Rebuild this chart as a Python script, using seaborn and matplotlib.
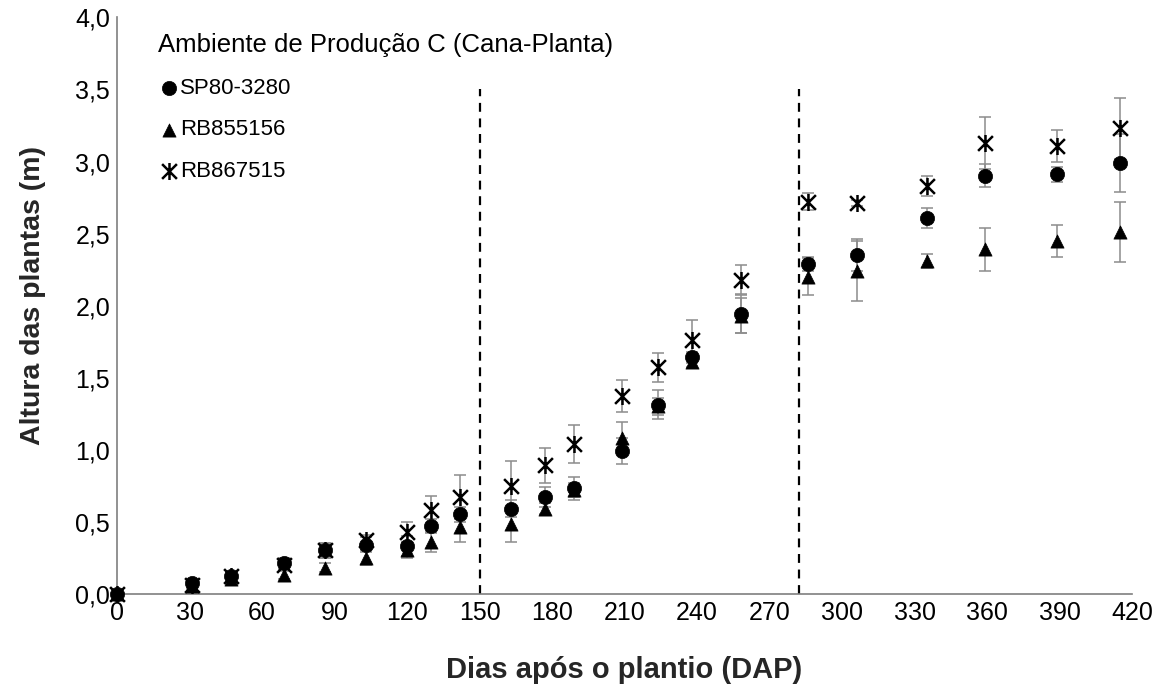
import matplotlib
matplotlib.use("Agg")
import matplotlib.pyplot as plt
from matplotlib.path import Path
import seaborn as sns
import numpy as np
import pandas as pd

# ---- data ----
dias = [0, 31, 47, 69, 86, 103, 120, 130, 142, 163, 177, 189, 209, 224, 238, 258, 286, 306, 335, 359, 389, 415]

sp80_3280 = [0.00, 0.07, 0.12, 0.21, 0.30, 0.34, 0.33, 0.47, 0.55, 0.59, 0.67, 0.73, 0.99, 1.31, 1.64, 1.94,
             2.29, 2.35, 2.61, 2.90, 2.91, 2.99]
sp80_3280_err = [0.00, 0.02, 0.02, 0.04, 0.05, 0.05, 0.07, 0.05, 0.05, 0.06, 0.07, 0.08, 0.09, 0.10, 0.04, 0.13,
                 0.05, 0.11, 0.07, 0.08, 0.05, 0.20]

rb855156 = [0.00, 0.05, 0.10, 0.13, 0.18, 0.25, 0.30, 0.36, 0.46, 0.48, 0.59, 0.72, 1.08, 1.30, 1.61, 1.93,
            2.20, 2.24, 2.31, 2.39, 2.45, 2.51]
rb855156_err = [0.00, 0.02, 0.02, 0.03, 0.03, 0.05, 0.05, 0.07, 0.10, 0.12, 0.04, 0.05, 0.11, 0.06, 0.04, 0.12,
                0.13, 0.21, 0.05, 0.15, 0.11, 0.21]

rb867515 = [0.00, 0.06, 0.12, 0.20, 0.30, 0.37, 0.43, 0.58, 0.67, 0.75, 0.89, 1.04, 1.37, 1.57, 1.76, 2.18,
            2.72, 2.71, 2.83, 3.13, 3.11, 3.23]
rb867515_err = [0.00, 0.02, 0.02, 0.03, 0.05, 0.04, 0.07, 0.10, 0.15, 0.17, 0.12, 0.13, 0.11, 0.10, 0.14, 0.10,
                0.06, 0.02, 0.07, 0.18, 0.11, 0.21]

x_ticks = [0, 30, 60, 90, 120, 150, 180, 210, 240, 270, 300, 330, 360, 390, 420]
y_ticks = [0.0, 0.5, 1.0, 1.5, 2.0, 2.5, 3.0, 3.5, 4.0]
divisoes = [150, 282]

legend_title = "Ambiente de Produção C (Cana-Planta)"
labels = ["SP80-3280", "RB855156", "RB867515"]

# ---- style ----
sns.set_theme(style="white")
plt.rcParams["font.family"] = ["Liberation Sans", "DejaVu Sans"]

fig = plt.figure(figsize=(11.59, 6.91), dpi=100)
ax = fig.add_axes([0.101, 0.141, 0.8757, 0.8337])

axis_gray = "#7f7f7f"
err_gray = "#8c8c8c"

# Excel-like "star" marker: an X with a vertical bar
star_marker = Path(
    [(-1, -1), (1, 1), (-1, 1), (1, -1), (0, -1.15), (0, 1.15)],
    [Path.MOVETO, Path.LINETO, Path.MOVETO, Path.LINETO, Path.MOVETO, Path.LINETO],
)

series = [
    (sp80_3280, sp80_3280_err, "o", labels[0], 105, 0.5),
    (rb855156, rb855156_err, "^", labels[1], 90, 0.5),
    (rb867515, rb867515_err, star_marker, labels[2], 150, 1.8),
]

for vals, errs, mk, lab, sz, lw in series:
    ax.errorbar(dias, vals, yerr=errs, fmt="none", ecolor=err_gray, elinewidth=1.1,
                capsize=4.5, capthick=1.1, zorder=2)

for vals, errs, mk, lab, sz, lw in series:
    df = pd.DataFrame({"dias": dias, "altura": vals})
    sns.scatterplot(data=df, x="dias", y="altura", marker=mk, s=sz, color="black",
                    edgecolor="black", linewidth=lw, ax=ax, label=lab, zorder=3, clip_on=False)

ymax_line = 3.5 / 4.0
for d in divisoes:
    ax.axvline(d, ymin=0, ymax=ymax_line, color="black", linestyle=(0, (4, 3)), linewidth=1.6, zorder=1)

ax.set_xlim(0, 420)
ax.set_ylim(0, 4.0)
ax.set_xticks(x_ticks)
ax.set_yticks(y_ticks)
ax.set_xticklabels([str(t) for t in x_ticks], fontsize=18)
ax.set_yticklabels([f"{t:.1f}".replace(".", ",") for t in y_ticks], fontsize=18)

ax.set_xlabel("Dias após o plantio (DAP)", fontsize=21, fontweight="bold")
ax.set_ylabel("Altura das plantas (m)", fontsize=20.5, fontweight="bold")
ax.xaxis.set_label_coords(0.5, -0.108)
ax.yaxis.set_label_coords(-0.07, 0.518)

for s in ["top", "right"]:
    ax.spines[s].set_visible(False)
for s in ["left", "bottom"]:
    ax.spines[s].set_color(axis_gray)
    ax.spines[s].set_linewidth(1.2)
ax.spines["bottom"].set_zorder(1)

ax.tick_params(axis="both", direction="in", length=6, width=1.2, color=axis_gray,
               labelcolor="black")
ax.tick_params(axis="x", pad=5)
ax.tick_params(axis="y", pad=5)

leg = ax.legend(title=legend_title, loc="upper left", bbox_to_anchor=(0.04, 0.973),
                frameon=False, fontsize=16, title_fontsize=18.5, handletextpad=0.0,
                handlelength=1.0, labelspacing=0.93, borderpad=0, borderaxespad=0,
                markerscale=1.0)
leg._legend_box.align = "left"
for t in leg.get_texts():
    t.set_color("black")
leg.get_title().set_color("black")

fig.savefig("out.png", dpi=100, facecolor="white")
